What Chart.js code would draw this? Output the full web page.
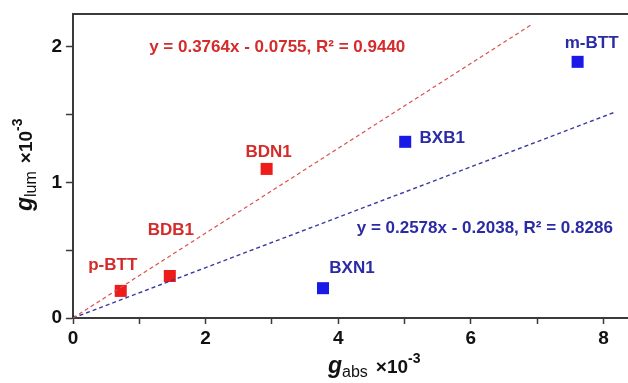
<!DOCTYPE html>
<html>
<head>
<meta charset="utf-8">
<script src="https://cdn.jsdelivr.net/npm/chart.js@4"></script>
<style>
  html, body { margin: 0; padding: 0; background: #fff; }
  #wrap { width: 628px; height: 383px; }
</style>
</head>
<body>
<div id="wrap"><canvas id="c" width="628" height="383"></canvas></div>
<script>
// data (units of 10^-3)
const redNames = ['p-BTT', 'BDB1', 'BDN1'];
const redAbs = [0.72, 1.46, 2.92];
const redLum = [0.20, 0.31, 1.10];

const blueNames = ['BXN1', 'BXB1', 'm-BTT'];
const blueAbs = [3.77, 5.01, 7.61];
const blueLum = [0.22, 1.30, 1.89];

// dashed fit lines as drawn (start, end)
const redFitX = [0, 6.9];
const redFitY = [0, 2.16];
const blueFitX = [0, 8.18];
const blueFitY = [0, 1.52];

const redEq = 'y = 0.3764x - 0.0755, R\u00B2 = 0.9440';
const blueEq = 'y = 0.2578x - 0.2038, R\u00B2 = 0.8286';
const redEqAt = [3.08, 2.0];
const blueEqAt = [6.21, 0.66];

const xTicks = [0, 2, 4, 6, 8];
const yTicks = [0, 1, 2];

// label offsets from the marker, in pixels
const redLabelOff = [[-8, -26], [1, -46], [2, -17]];
const blueLabelOff = [[29, -20], [37, -3], [14, -19]];

const RED = '#ee1b1b', RED_TXT = '#d42b2b', RED_LINE = '#d95050';
const BLUE = '#1a1ae6', BLUE_TXT = '#2b2ba6', BLUE_LINE = '#3a3aa0';
const AXIS = '#3a3a3a';

function pts(xs, ys) { return xs.map((x, i) => ({x: x, y: ys[i]})); }

const labelPlugin = {
  id: 'labels',
  afterDatasetsDraw(chart) {
    const ctx = chart.ctx, xs = chart.scales.x, ys = chart.scales.y, a = chart.chartArea;
    ctx.save();
    ctx.textAlign = 'center';
    ctx.textBaseline = 'middle';
    ctx.font = 'bold 17px "Liberation Sans", Arial, sans-serif';
    ctx.fillStyle = RED_TXT;
    redNames.forEach((n, i) => {
      ctx.fillText(n, xs.getPixelForValue(redAbs[i]) + redLabelOff[i][0], ys.getPixelForValue(redLum[i]) + redLabelOff[i][1]);
    });
    ctx.fillText(redEq, xs.getPixelForValue(redEqAt[0]), ys.getPixelForValue(redEqAt[1]));
    ctx.fillStyle = BLUE_TXT;
    blueNames.forEach((n, i) => {
      ctx.fillText(n, xs.getPixelForValue(blueAbs[i]) + blueLabelOff[i][0], ys.getPixelForValue(blueLum[i]) + blueLabelOff[i][1]);
    });
    ctx.fillText(blueEq, xs.getPixelForValue(blueEqAt[0]), ys.getPixelForValue(blueEqAt[1]));

    // top frame line
    ctx.strokeStyle = AXIS;
    ctx.lineWidth = 2;
    ctx.beginPath();
    ctx.moveTo(a.left - 1, a.top);
    ctx.lineTo(a.right, a.top);
    ctx.stroke();

    // axis titles with sub/superscripts
    ctx.fillStyle = '#111';
    ctx.textAlign = 'left';
    ctx.textBaseline = 'alphabetic';
    function title(x, y, sub) {
      let cx = x;
      ctx.font = 'italic bold 23px "Liberation Sans", Arial, sans-serif';
      ctx.fillText('g', cx, y); cx += ctx.measureText('g').width;
      ctx.font = '16px "Liberation Sans", Arial, sans-serif';
      ctx.fillText(sub, cx, y + 4); cx += ctx.measureText(sub).width + 8;
      ctx.font = 'bold 19px "Liberation Sans", Arial, sans-serif';
      ctx.fillText('\u00D710', cx, y); cx += ctx.measureText('\u00D710').width;
      ctx.font = 'bold 14px "Liberation Sans", Arial, sans-serif';
      ctx.fillText('-3', cx, y - 10);
    }
    title(328, 373, 'abs');
    ctx.save();
    ctx.translate(32, 211);
    ctx.rotate(-Math.PI / 2);
    title(0, 0, 'lum');
    ctx.restore();
    ctx.restore();
  }
};

const tickFont = {family: '"Liberation Sans", Arial, sans-serif', size: 19, weight: 'bold'};

new Chart(document.getElementById('c'), {
  type: 'scatter',
  data: {
    datasets: [
      {data: pts(redFitX, redFitY), type: 'line', showLine: true, borderColor: RED_LINE, borderWidth: 1.2,
       borderDash: [4, 3], pointRadius: 0, fill: false},
      {data: pts(blueFitX, blueFitY), type: 'line', showLine: true, borderColor: BLUE_LINE, borderWidth: 1.4,
       borderDash: [4, 3], pointRadius: 0, fill: false},
      {data: pts(redAbs, redLum), pointStyle: 'rect', pointRadius: 8.5, backgroundColor: RED, borderWidth: 0},
      {data: pts(blueAbs, blueLum), pointStyle: 'rect', pointRadius: 8.5, backgroundColor: BLUE, borderWidth: 0},
      {data: [{x: 0, y: 0}], pointRadius: 2.5, backgroundColor: '#111', borderWidth: 0}
    ]
  },
  options: {
    responsive: false,
    animation: false,
    events: [],
    layout: {autoPadding: false, padding: {top: 14, right: 0, left: 0, bottom: 0}},
    plugins: {legend: {display: false}, tooltip: {enabled: false}},
    scales: {
      x: {
        type: 'linear', min: 0, max: 8.37,
        afterFit(s) { s.height = 65; s.paddingLeft = 0; s.paddingRight = 0; },
        border: {display: true, color: AXIS, width: 2},
        grid: {drawOnChartArea: false, drawTicks: true, tickLength: 6, color: AXIS, tickWidth: 1.5},
        ticks: {stepSize: 1, includeBounds: false, font: tickFont, color: '#111', padding: 3, maxRotation: 0,
                callback: v => xTicks.includes(v) ? String(v) : ''}
      },
      y: {
        type: 'linear', min: 0, max: 2.243,
        afterFit(s) { s.width = 73; s.paddingTop = 0; s.paddingBottom = 0; },
        border: {display: true, color: AXIS, width: 2},
        grid: {drawOnChartArea: false, drawTicks: true, tickLength: 7, color: AXIS, tickWidth: 1.5},
        ticks: {stepSize: 0.5, includeBounds: false, font: tickFont, color: '#111', padding: 4,
                callback: v => yTicks.includes(v) ? String(v) : ''}
      }
    }
  },
  plugins: [labelPlugin]
});
</script>
</body>
</html>
